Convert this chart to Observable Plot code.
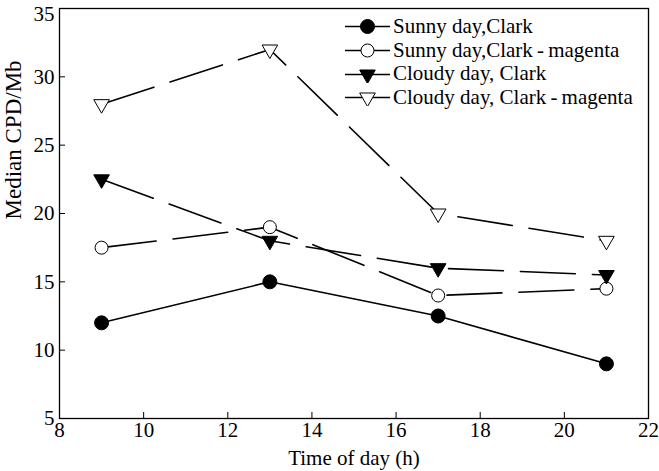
<!DOCTYPE html>
<html>
<head>
<meta charset="utf-8">
<script src="https://cdn.jsdelivr.net/npm/d3@7"></script>
<script src="https://cdn.jsdelivr.net/npm/@observablehq/plot@0.6"></script>
<style>
  html, body { margin: 0; padding: 0; background: #fff; }
  #wrap { position: relative; width: 659px; height: 471px; font-family: "Liberation Serif", "Times New Roman", serif; }
  #chart svg { overflow: visible; }
  #legend { position: absolute; left: 345px; top: 15px; font-size: 21px; line-height: 23.7px; color: #000; }
  #legend .row { display: flex; align-items: center; height: 23.7px; white-space: nowrap; }
  #legend svg { margin-right: 3px; }
</style>
</head>
<body>
<div id="wrap"><div id="chart"></div><div id="legend"></div></div>
<script>
const hours = [9, 13, 17, 21];
const seriesNames = ["Sunny day,Clark", "Sunny day,Clark\u2009-\u2009magenta", "Cloudy day, Clark", "Cloudy day, Clark\u2009-\u2009magenta"];
const sunnyClark = [12, 15, 12.5, 9];
const sunnyMagenta = [17.5, 19, 14, 14.5];
const cloudyClark = [22.5, 18, 16, 15.5];
const cloudyMagenta = [28, 32, 20, 18];
const xTicks = [8, 10, 12, 14, 16, 18, 20, 22];
const yTicks = [5, 10, 15, 20, 25, 30, 35];
const xLabel = "Time of day (h)";
const yLabel = "Median CPD/Mb";

const valueSets = [sunnyClark, sunnyMagenta, cloudyClark, cloudyMagenta];
const styles = [
  {symbol: "circle", fill: "black", dash: null, r: 7, rotate: 0},
  {symbol: "circle", fill: "white", dash: "55,17", r: 6.5, rotate: 0},
  {symbol: "triangle", fill: "black", dash: "55,17", r: 5.8, rotate: 180},
  {symbol: "triangle", fill: "white", dash: "55,17", r: 5.8, rotate: 180}
];
const data = valueSets.map((vals, i) => hours.map((h, j) => ({series: seriesNames[i], x: h, y: vals[j]})));

const marks = [];
data.forEach((d, i) => {
  const s = styles[i];
  marks.push(Plot.line(d, {x: "x", y: "y", stroke: "black", strokeWidth: 1.6, strokeDasharray: s.dash}));
});
data.forEach((d, i) => {
  const s = styles[i];
  marks.push(Plot.dot(d, {x: "x", y: "y", symbol: () => s.symbol, r: s.r, fill: s.fill, stroke: "black", strokeWidth: 1, rotate: s.rotate}));
});

const yMax = d3.max(yTicks);
const chart = Plot.plot({
  width: 659,
  height: 471,
  marginLeft: 59,
  marginRight: 11,
  marginTop: 8,
  marginBottom: 53,
  style: {fontFamily: "'Liberation Serif', 'Times New Roman', serif", fontSize: "21px", background: "white", color: "black", overflow: "visible"},
  symbol: {type: "identity"},
  x: {domain: [8, 22], ticks: xTicks},
  y: {domain: [5, 35], ticks: yTicks},
  marks: [
    Plot.frame({stroke: "black", strokeWidth: 1.3}),
    Plot.axisX(xTicks, {anchor: "bottom", tickSize: -6, tickPadding: 10, fontSize: 21, label: null}),
    Plot.axisY(yTicks.filter(t => t < yMax), {anchor: "left", tickSize: -6, tickPadding: 11, fontSize: 21, label: null}),
    Plot.axisY([yMax], {anchor: "left", tickSize: 0, tickPadding: 5, dy: 6, fontSize: 21, label: null}),
    Plot.text([xLabel], {frameAnchor: "bottom", dy: 40, lineAnchor: "middle", fontSize: 21}),
    Plot.text([yLabel], {frameAnchor: "left", dx: -46, dy: 6, rotate: -90, fontSize: 23}),
    ...marks
  ]
});
document.getElementById("chart").appendChild(chart);

// Legend
const legend = d3.select("#legend");
seriesNames.forEach((name, i) => {
  const s = styles[i];
  const row = legend.append("div").attr("class", "row");
  const svg = row.append("svg").attr("width", 45).attr("height", 17);
  svg.append("line").attr("x1", 0).attr("x2", 45).attr("y1", 8.5).attr("y2", 8.5).attr("stroke", "black").attr("stroke-width", 1.6);
  const sym = s.symbol === "circle" ? d3.symbolCircle : d3.symbolTriangle;
  svg.append("path").attr("d", d3.symbol(sym, Math.PI * s.r * s.r)())
    .attr("transform", `translate(22.5,8.5) rotate(${s.rotate})`)
    .attr("fill", s.fill).attr("stroke", "black").attr("stroke-width", 1);
  row.append("span").text(name);
});
</script>
</body>
</html>
